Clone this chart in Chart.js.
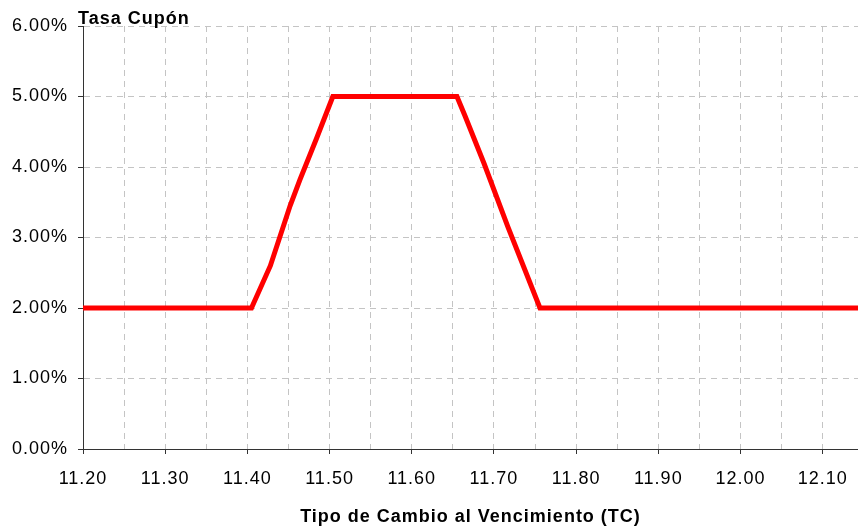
<!DOCTYPE html>
<html>
<head>
<meta charset="utf-8">
<script src="https://cdn.jsdelivr.net/npm/chart.js@4"></script>
<style>
  html, body { margin: 0; padding: 0; background: #fff; }
  #wrap { width: 858px; height: 527px; }
</style>
</head>
<body>
<div id="wrap"><canvas id="graficaCupon"></canvas></div>
<script>
// datos
const tipoCambio = [11.20, 11.405, 11.428, 11.452, 11.464, 11.484, 11.504, 11.655, 11.665, 11.688, 11.717, 11.756, 12.143];
const tasaCupon  = [2.00, 2.00, 2.60, 3.45, 3.82, 4.40, 5.00, 5.00, 4.72, 4.05, 3.15, 2.00, 2.00];
const etiquetasX = ['11.20', '11.30', '11.40', '11.50', '11.60', '11.70', '11.80', '11.90', '12.00', '12.10'];
const etiquetasY = ['0.00%', '1.00%', '2.00%', '3.00%', '4.00%', '5.00%', '6.00%'];

const fuente = 'Liberation Sans, Arial, sans-serif';
const ejeColor = '#333333';
const gridColor = '#c4c4c4';

const puntos = tipoCambio.map((x, i) => ({ x: x, y: tasaCupon[i] }));

// el texto original viene algo espaciado
const espaciado = {
  id: 'espaciado',
  beforeLayout(chart) { chart.ctx.letterSpacing = '1px'; },
  beforeDraw(chart) { chart.ctx.letterSpacing = '1px'; }
};

// titulo del eje Y arriba a la izquierda
const tituloY = {
  id: 'tituloY',
  afterDraw(chart) {
    const c = chart.ctx;
    c.save();
    c.font = 'bold 18px ' + fuente;
    c.fillStyle = '#000';
    c.textAlign = 'left';
    c.textBaseline = 'middle';
    c.fillText('Tasa Cupón', chart.chartArea.left - 5, 19);
    c.restore();
  }
};

const esEtiqueta = v => etiquetasX.some(l => Math.abs(parseFloat(l) - v) < 1e-6);

new Chart(document.getElementById('graficaCupon'), {
  type: 'line',
  data: {
    datasets: [{
      data: puntos,
      borderColor: '#ff0000',
      borderWidth: 5,
      pointRadius: 0,
      tension: 0,
      fill: false
    }]
  },
  options: {
    responsive: true,
    maintainAspectRatio: false,
    animation: false,
    layout: { padding: { top: 26, right: 0, left: 0, bottom: 0 } },
    plugins: {
      legend: { display: false },
      tooltip: { enabled: false }
    },
    scales: {
      x: {
        type: 'linear',
        min: 11.20,
        max: 12.143,
        afterBuildTicks: scale => {
          const t = [];
          etiquetasX.forEach(l => {
            const v = parseFloat(l);
            t.push({ value: v });
            if (v + 0.05 <= scale.max) t.push({ value: +(v + 0.05).toFixed(2) });
          });
          scale.ticks = t;
        },
        afterFit: scale => {
          scale.height = 78;
          scale.paddingRight = 0;
        },
        ticks: {
          autoSkip: false,
          maxRotation: 0,
          padding: 14,
          color: '#000',
          font: { family: fuente, size: 18 },
          callback: v => {
            const l = etiquetasX.find(e => Math.abs(parseFloat(e) - v) < 1e-6);
            return l || '';
          }
        },
        grid: {
          color: c => (c.tick && c.tick.value > 11.21) ? gridColor : 'rgba(0,0,0,0)',
          lineWidth: 1,
          tickLength: 5,
          tickColor: c => (c.tick && esEtiqueta(c.tick.value)) ? ejeColor : 'rgba(0,0,0,0)'
        },
        border: { display: true, color: ejeColor, width: 1, dash: [6, 5] },
        title: {
          display: true,
          text: 'Tipo de Cambio al Vencimiento (TC)',
          color: '#000',
          font: { family: fuente, size: 18, weight: 'bold' },
          padding: { top: 0, bottom: -1 }
        }
      },
      y: {
        min: 0,
        max: 6,
        afterBuildTicks: scale => {
          scale.ticks = etiquetasY.map(l => ({ value: parseFloat(l) }));
        },
        afterFit: scale => { scale.width = 83; },
        ticks: {
          padding: 10,
          color: '#000',
          font: { family: fuente, size: 18 },
          callback: (v, i) => etiquetasY[i]
        },
        grid: {
          color: c => (c.tick && c.tick.value > 0.01) ? gridColor : 'rgba(0,0,0,0)',
          lineWidth: 1,
          tickLength: 5,
          tickColor: ejeColor
        },
        border: { display: true, color: ejeColor, width: 1, dash: [6, 5] }
      }
    }
  },
  plugins: [espaciado, tituloY]
});
</script>
</body>
</html>
